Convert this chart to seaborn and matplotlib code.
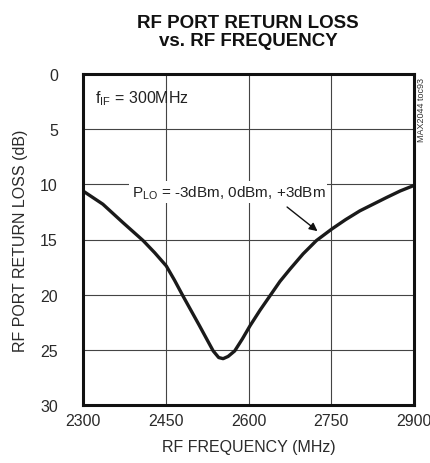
import numpy as np
import pandas as pd
import matplotlib
matplotlib.use("Agg")
import matplotlib.pyplot as plt
import seaborn as sns

# RF port return loss (all P_LO levels overlap)
freq_mhz = [2300, 2336, 2372, 2409, 2430, 2451, 2466, 2481, 2496, 2511,
            2524, 2536, 2546, 2554, 2563, 2575, 2589, 2603, 2621, 2639,
            2657, 2675, 2699, 2723, 2751, 2776, 2802, 2826, 2850, 2875, 2900]
return_loss_db = [10.6, 11.8, 13.45, 15.1, 16.2, 17.4, 18.7, 20.1, 21.45, 22.8,
                  24.0, 25.1, 25.7, 25.8, 25.6, 25.1, 24.0, 22.8, 21.4, 20.1,
                  18.8, 17.7, 16.3, 15.1, 14.05, 13.2, 12.4, 11.8, 11.2, 10.6, 10.1]

x_ticks = [2300, 2450, 2600, 2750, 2900]
y_ticks = [0, 5, 10, 15, 20, 25, 30]

sns.set_style("white")
plt.rcParams['font.family'] = ['Liberation Sans Narrow', 'Liberation Sans', 'DejaVu Sans']

df = pd.DataFrame({'freq': freq_mhz, 'rl': return_loss_db})

fig = plt.figure(figsize=(4.31, 4.64), dpi=100)
ax = fig.add_axes([83 / 431, 58 / 464, 331 / 431, 331 / 464])

sns.lineplot(data=df, x='freq', y='rl', ax=ax, color='#1a1a1a', linewidth=2.4)

ax.set_xlim(2300, 2900)
ax.set_ylim(30, 0)
ax.set_xticks(x_ticks)
ax.set_yticks(y_ticks)
ax.tick_params(axis='both', length=0, labelsize=11.5, colors='#2a2a2a')
ax.tick_params(axis='x', pad=6)
ax.tick_params(axis='y', pad=18)
ax.grid(True, color='#444444', linewidth=0.8)
for s in ax.spines.values():
    s.set_linewidth(2.2)
    s.set_color('#111111')

ax.set_xlabel('RF FREQUENCY (MHz)', fontsize=11.5, color='#2a2a2a', labelpad=8)
ax.set_ylabel('RF PORT RETURN LOSS (dB)', fontsize=11.5, color='#2a2a2a', labelpad=9)

fig.text(248 / 431, 1 - 15 / 464, 'RF PORT RETURN LOSS\nvs. RF FREQUENCY',
         ha='center', va='top', fontsize=13.5, fontweight='bold',
         linespacing=1.05, color='#111111')

ax.text(2322, 2.1, r'f$_{\mathregular{IF}}$ = 300MHz', fontsize=11.5,
        va='center', ha='left', color='#222222')
ax.text(2388, 10.7, r'P$_{\mathregular{LO}}$ = -3dBm, 0dBm, +3dBm', fontsize=11,
        va='center', ha='left', color='#222222',
        bbox=dict(facecolor='white', edgecolor='none', pad=1.5))
ax.annotate('', xy=(2729, 14.4), xytext=(2666, 11.9),
            arrowprops=dict(arrowstyle='-|>', color='#111111', lw=1.0,
                            mutation_scale=12))

fig.text(422 / 431, 1 - 110 / 464, 'MAX2044 toc93', rotation=90,
         fontsize=6.5, ha='center', va='center', color='#333333')

fig.savefig('out.png', dpi=100)
